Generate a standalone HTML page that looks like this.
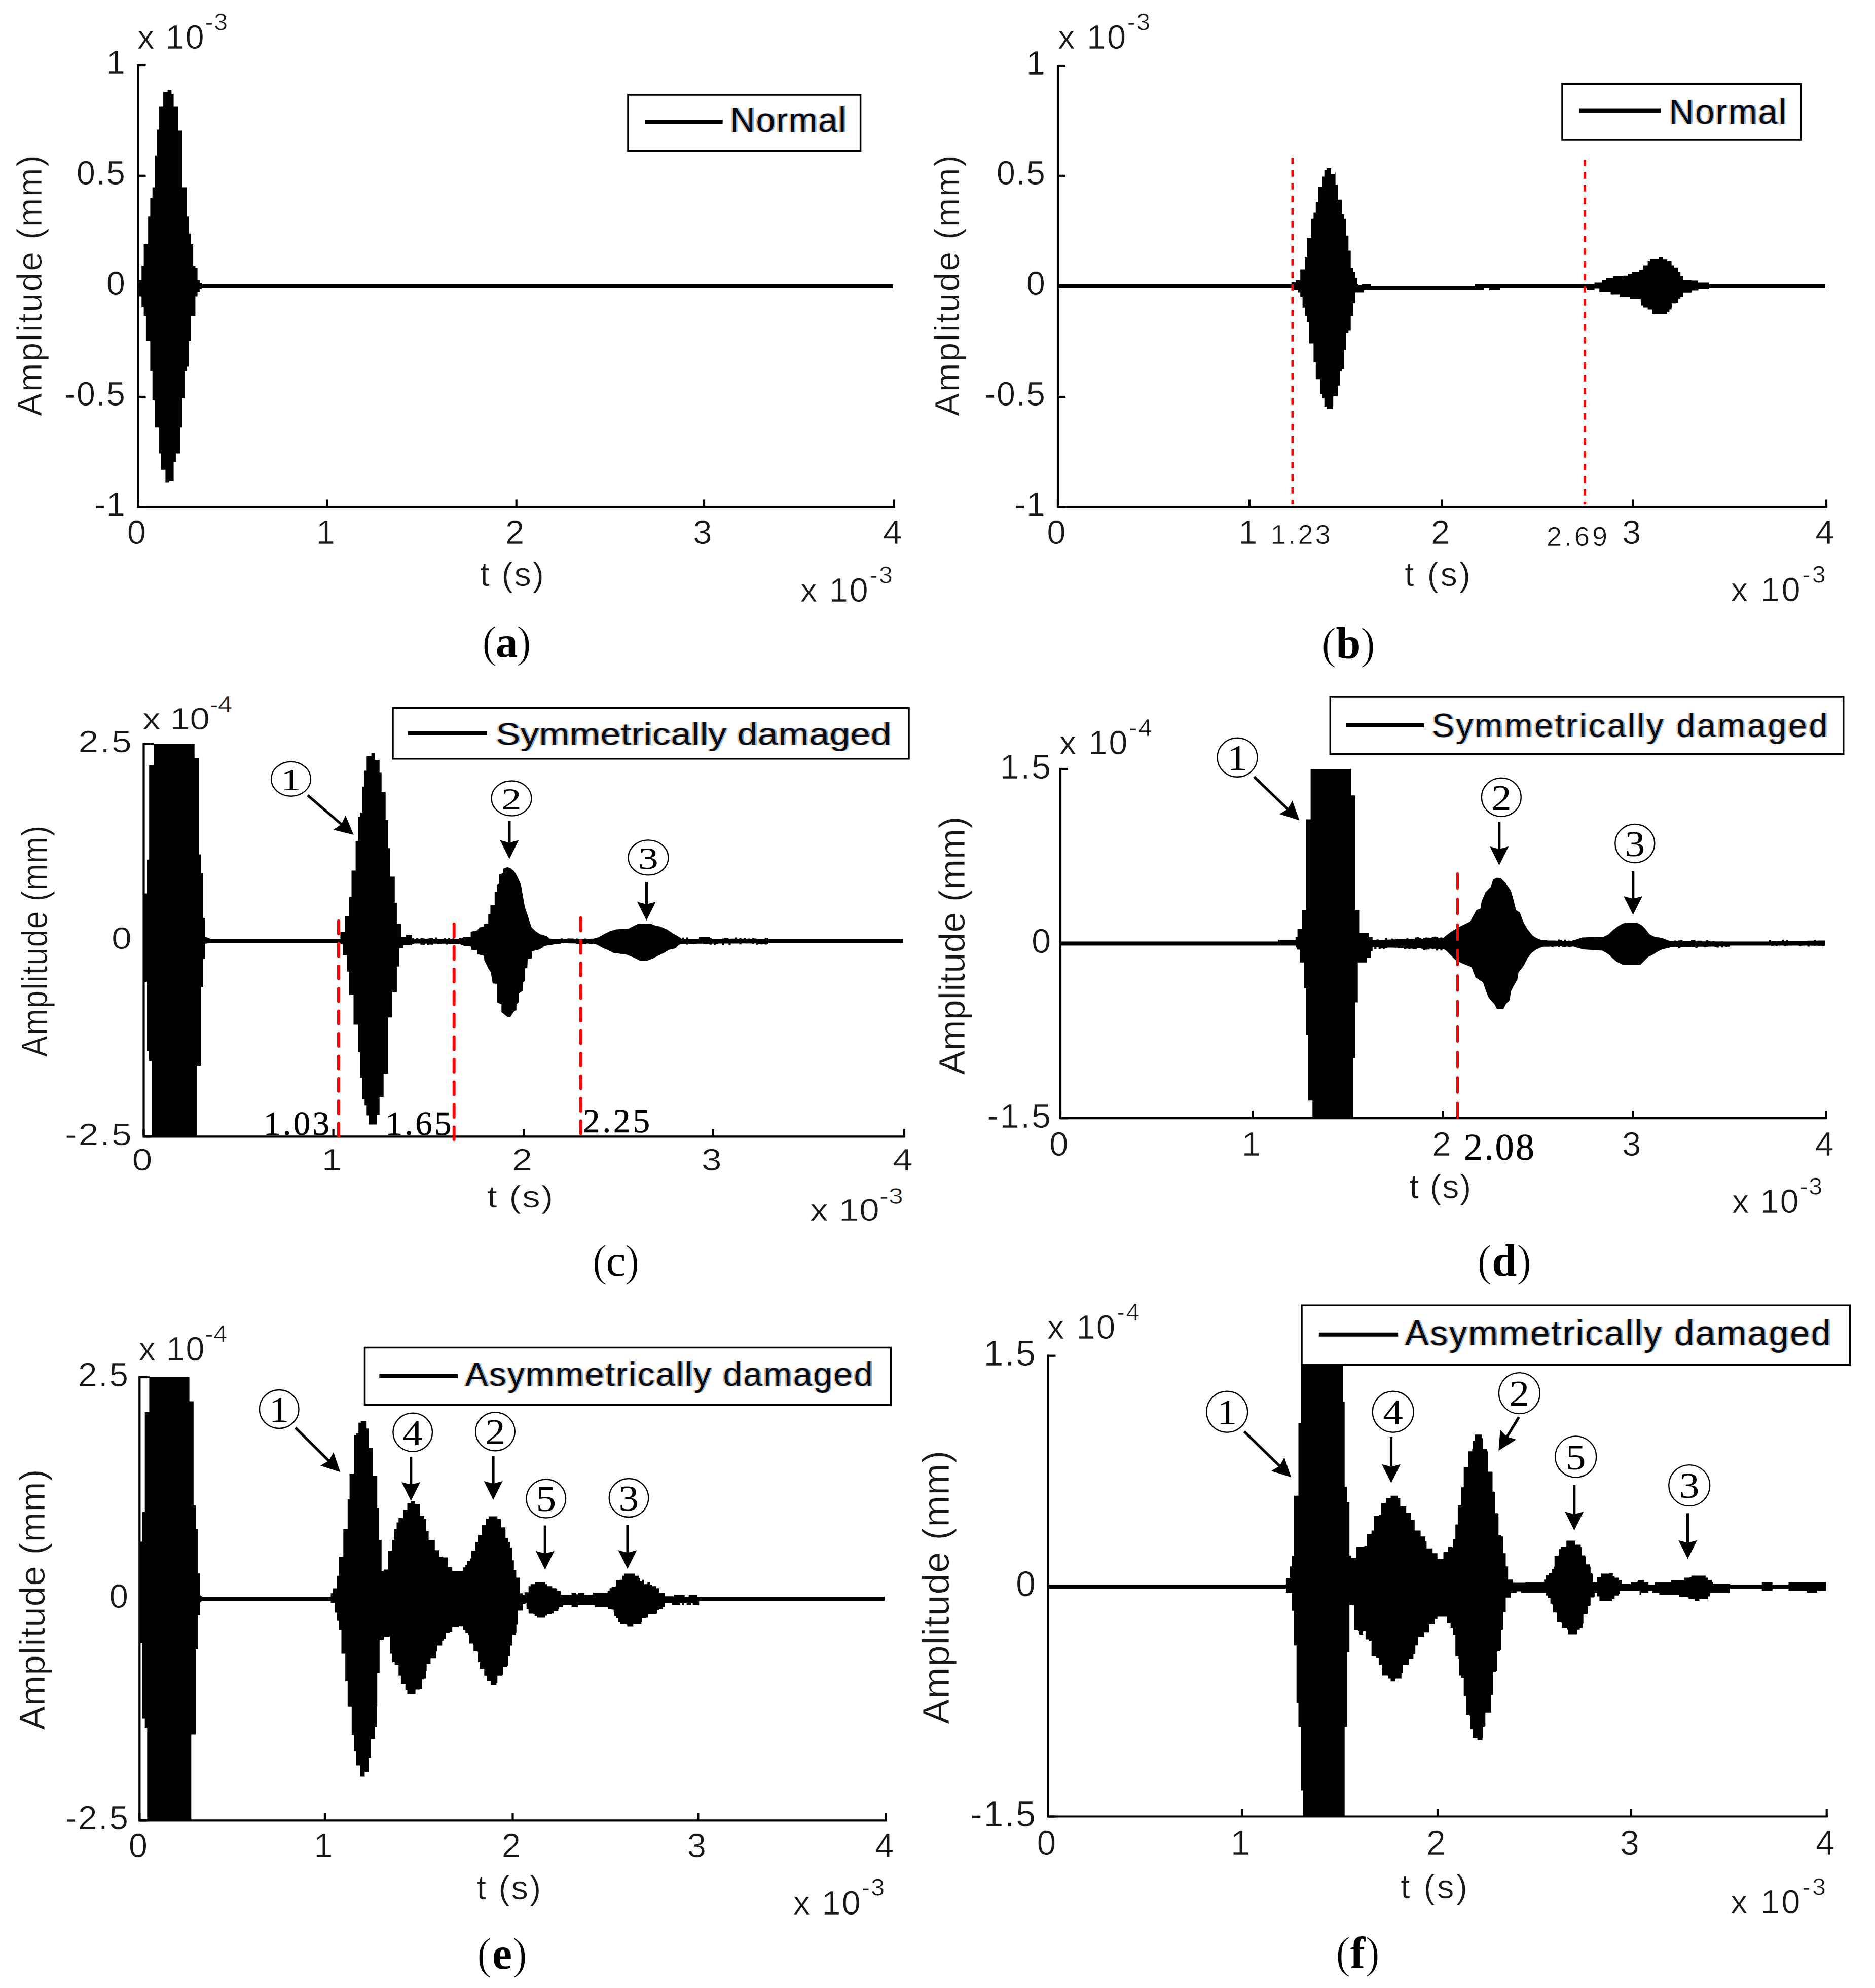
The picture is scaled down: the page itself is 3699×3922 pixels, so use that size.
<!DOCTYPE html>
<html><head><meta charset="utf-8"><title>Figure</title>
<style>html,body{margin:0;padding:0;background:#fff;overflow:hidden}svg{display:block}text{font-family:"Liberation Sans",sans-serif;fill:#181818;stroke:#fff;stroke-width:.7px}.sf{font-family:"Liberation Serif",serif;stroke:none}.k{fill:#000}.lg{fill:#0a0a14;stroke:none}.lo{fill:#ffb664;stroke:none}.lb{fill:#64b4ff;stroke:none}.sn{stroke:#000;stroke-width:.7px}.pr{stroke:#fff;stroke-width:1.5px}</style>
</head><body>
<svg width="3699" height="3922" viewBox="0 0 3699 3922">
<rect width="3699" height="3922" fill="#fff"/>
<g id="pa">
<rect x="272" y="561" width="1490" height="8" fill="#000"/>
<polygon fill="#000" points="272.5,561 274.2,561 274.2,552.6 279.3,552.6 279.3,524 283.6,524 283.6,482 292.2,482 292.2,427.3 296.4,427.3 296.4,390 300.7,390 300.7,369.6 305,369.6 305,306.7 309.3,306.7 309.3,255.4 313.5,255.4 313.5,210.5 322.1,210.5 322.1,181.5 330.6,181.5 330.6,177.6 338.3,177.6 338.3,184.9 342.6,184.9 342.6,210.5 352,210.5 352,257.6 359.7,257.6 359.7,369.6 368.3,369.6 368.3,427.3 372.5,427.3 372.5,460.7 376.8,460.7 376.8,482 381.1,482 381.1,524 385.4,524 385.4,528 389.6,528 389.6,552.6 393.9,552.6 393.9,558 398.2,558 398.2,571 393.9,571 393.9,577 389.6,577 389.6,584.6 385.4,584.6 385.4,623 376.8,623 376.8,673 372.5,673 372.5,723.6 368.3,723.6 368.3,731.3 364,731.3 364,785.6 359.7,785.6 359.7,843.3 355.4,843.3 355.4,894.6 346.9,894.6 346.9,911.7 342.6,911.7 342.6,948 334.1,948 334.1,951.5 326.4,951.5 326.4,926.7 317.8,926.7 317.8,894.6 313.5,894.6 313.5,843.3 305,843.3 305,789.9 300.7,789.9 300.7,731.3 296.4,731.3 296.4,673 287.9,673 287.9,623 283.6,623 283.6,606 279.3,606 279.3,584.6 274.2,584.6 274.2,569 272.5,569"/>
<path d="M272.5 129V1000.5H1764" fill="none" stroke="#000" stroke-width="4.2" stroke-linecap="square"/>
<line x1="272.5" y1="1000.5" x2="272.5" y2="985.5" stroke="#000" stroke-width="4.2"/>
<line x1="645.4" y1="1000.5" x2="645.4" y2="985.5" stroke="#000" stroke-width="4.2"/>
<line x1="1018.7" y1="1000.5" x2="1018.7" y2="985.5" stroke="#000" stroke-width="4.2"/>
<line x1="1389" y1="1000.5" x2="1389" y2="985.5" stroke="#000" stroke-width="4.2"/>
<line x1="1763.7" y1="1000.5" x2="1763.7" y2="985.5" stroke="#000" stroke-width="4.2"/>
<line x1="272.5" y1="129" x2="287.5" y2="129" stroke="#000" stroke-width="4.2"/>
<line x1="272.5" y1="346.8" x2="287.5" y2="346.8" stroke="#000" stroke-width="4.2"/>
<line x1="272.5" y1="565" x2="287.5" y2="565" stroke="#000" stroke-width="4.2"/>
<line x1="272.5" y1="783" x2="287.5" y2="783" stroke="#000" stroke-width="4.2"/>
<line x1="272.5" y1="1000.5" x2="287.5" y2="1000.5" stroke="#000" stroke-width="4.2"/>
<text x="269.5" y="1073" font-size="67" text-anchor="middle">0</text>
<text x="642.4" y="1073" font-size="67" text-anchor="middle">1</text>
<text x="1015.7" y="1073" font-size="67" text-anchor="middle">2</text>
<text x="1386" y="1073" font-size="67" text-anchor="middle">3</text>
<text x="1760.7" y="1073" font-size="67" text-anchor="middle">4</text>
<text x="248.5" y="146" font-size="67" text-anchor="end" letter-spacing="1.5">1</text>
<text x="248.5" y="363.8" font-size="67" text-anchor="end" letter-spacing="1.5">0.5</text>
<text x="248.5" y="582" font-size="67" text-anchor="end" letter-spacing="1.5">0</text>
<text x="248.5" y="800" font-size="67" text-anchor="end" letter-spacing="1.5">-0.5</text>
<text x="248.5" y="1017.5" font-size="67" text-anchor="end" letter-spacing="1.5">-1</text>
<text x="271" y="96" font-size="67" textLength="178" lengthAdjust="spacing">x 10<tspan font-size="48.2" dy="-36.2">-3</tspan></text>
<text x="1578.7" y="1187" font-size="67" textLength="182" lengthAdjust="spacing">x 10<tspan font-size="48.2" dy="-36.2">-3</tspan></text>
<text x="947" y="1156" font-size="67" textLength="126" lengthAdjust="spacing">t (s)</text>
<text x="0" y="0" font-size="68" text-anchor="middle" textLength="515" lengthAdjust="spacing" transform="translate(81.5 563.5) scale(1.0 1.0) rotate(-90)">Amplitude (mm)</text>
<rect x="1239" y="187" width="458.6" height="110.5" fill="#fff" stroke="#000" stroke-width="3.5"/>
<line x1="1272" y1="240" x2="1425.7" y2="240" stroke="#000" stroke-width="8"/>
<text x="1437.8" y="260" font-size="68" textLength="228.5" lengthAdjust="spacing" class="lo">Normal</text>
<text x="1443.2" y="260" font-size="68" textLength="228.5" lengthAdjust="spacing" class="lb">Normal</text>
<text x="1440.5" y="260" font-size="68" textLength="228.5" lengthAdjust="spacing" class="lg">Normal</text>
<text x="951.1" y="1296" font-size="88" class="sf k" textLength="97" lengthAdjust="spacing"><tspan class="pr">(</tspan><tspan font-weight="bold">a</tspan><tspan class="pr">)</tspan></text>
</g>
<g id="pb">
<rect x="2087" y="561" width="593" height="8" fill="#000"/>
<rect x="2676" y="565" width="238" height="8" fill="#000"/>
<rect x="2910" y="561" width="691" height="8" fill="#000"/>
<polygon fill="#000" points="2547.7,561 2547.7,557 2556.4,557 2556.4,552.8 2565.2,552.8 2565.2,531.5 2574,531.5 2574,507 2578.3,507 2578.3,469.6 2587,469.6 2587,431.7 2591.4,431.7 2591.4,419.5 2595.8,419.5 2595.8,398 2600.2,398 2600.2,369 2608.4,369 2608.4,348.6 2612.7,348.6 2612.7,336 2617,336 2617,332 2625.3,332 2626,332 2626,344 2634,344 2634,340 2634.6,340 2634.6,364.6 2639,364.6 2639,393.8 2647,393.8 2647,423 2651.5,423 2651.5,431.7 2656,431.7 2656,464.7 2660.3,464.7 2660.3,494.4 2664.7,494.4 2664.7,528 2669,528 2669,536 2673.4,536 2673.4,548.4 2677.8,548.4 2677.8,563 2686.6,563 2686.6,561 2704,561 2704,566 2704,572 2690.6,572 2690.6,577.6 2673.4,577.6 2673.4,598 2669,598 2669,623.4 2664.7,623.4 2664.7,652.6 2660.3,652.6 2660.3,656.4 2656,656.4 2656,690 2651.5,690 2651.5,727.3 2647,727.3 2647,731.6 2643.4,731.6 2643.4,760.8 2642.8,760.8 2639,760.8 2639,781 2639,781.8 2630.2,781.8 2630.2,802.2 2629.4,802.2 2629.4,806.6 2621.5,806.6 2617,806.6 2617,802.2 2612.7,802.2 2612.7,785.6 2608.4,785.6 2608.4,777.4 2604,777.4 2604,748.3 2595.8,748.3 2595.8,714.7 2591.4,714.7 2591.4,677.4 2582.7,677.4 2582.7,636 2578.3,636 2578.3,623.4 2574,623.4 2574,606.8 2569.6,606.8 2569.6,585.7 2565.2,585.7 2565.2,577.6 2560.8,577.6 2560.8,573 2552,573 2552,569 2547.7,569"/>
<polygon fill="#000" points="3130,561 3145.6,561 3145.6,557.6 3160,557.6 3160,552.8 3168,552.8 3168,548.6 3182.4,548.6 3182.4,544.8 3203,544.8 3203,543.8 3211,543.8 3211,540 3219.8,540 3219.8,536 3233.6,536 3233.6,532 3241.6,532 3241.6,523.4 3250.6,523.4 3250.6,515 3255,515 3255,510.6 3272,510.6 3272,507.4 3280,507.4 3280,511.2 3289,511.2 3289,515 3297.6,515 3297.6,523.4 3302.4,523.4 3302.4,527.8 3311,527.8 3311,536 3315.2,536 3315.2,544.8 3320,544.8 3320,552.8 3337.6,552.8 3337.6,553.4 3349.8,553.4 3349.8,557.6 3372,557.6 3372,561 3372,571 3350.4,571 3350.4,573.6 3337.6,573.6 3337.6,577.8 3320,577.8 3320,585.4 3315.2,585.4 3315.2,589.6 3311,589.6 3311,597.6 3306.6,597.6 3306.6,598.2 3298.2,598.2 3298.2,606.6 3297.6,606.6 3297.6,610.4 3293.4,610.4 3293.4,615.2 3289,615.2 3289,619 3284.8,619 3259.2,619 3259.2,610.4 3250.6,610.4 3250.6,606.6 3241.6,606.6 3241.6,602.4 3237.8,602.4 3237.8,594.4 3236.8,594.4 3236.8,589.6 3216,589.6 3216,585.4 3195.2,585.4 3195.2,581.6 3177.6,581.6 3177.6,576.8 3155.2,576.8 3155.2,569.4 3145.6,569.4 3145.6,573 3130,573"/>
<rect x="2914" y="569" width="8" height="4" fill="#000"/>
<rect x="2922" y="569" width="6" height="3" fill="#000"/>
<rect x="2938" y="569" width="22" height="4" fill="#000"/>
<path d="M2087 130V1000.5H3603" fill="none" stroke="#000" stroke-width="4.2" stroke-linecap="square"/>
<line x1="2087" y1="1000.5" x2="2087" y2="985.5" stroke="#000" stroke-width="4.2"/>
<line x1="2465" y1="1000.5" x2="2465" y2="985.5" stroke="#000" stroke-width="4.2"/>
<line x1="2844.6" y1="1000.5" x2="2844.6" y2="985.5" stroke="#000" stroke-width="4.2"/>
<line x1="3221.7" y1="1000.5" x2="3221.7" y2="985.5" stroke="#000" stroke-width="4.2"/>
<line x1="3603" y1="1000.5" x2="3603" y2="985.5" stroke="#000" stroke-width="4.2"/>
<line x1="2087" y1="130" x2="2102" y2="130" stroke="#000" stroke-width="4.2"/>
<line x1="2087" y1="346.8" x2="2102" y2="346.8" stroke="#000" stroke-width="4.2"/>
<line x1="2087" y1="565" x2="2102" y2="565" stroke="#000" stroke-width="4.2"/>
<line x1="2087" y1="783" x2="2102" y2="783" stroke="#000" stroke-width="4.2"/>
<line x1="2087" y1="1000.5" x2="2102" y2="1000.5" stroke="#000" stroke-width="4.2"/>
<line x1="2549.8" y1="311" x2="2549.8" y2="995" stroke="#ff0000" stroke-width="4.6" stroke-dasharray="12.8 12.2"/>
<line x1="3126.5" y1="315" x2="3126.5" y2="995" stroke="#ff0000" stroke-width="4.6" stroke-dasharray="12.8 12.2"/>
<text x="2084" y="1073" font-size="67" text-anchor="middle">0</text>
<text x="2462" y="1073" font-size="67" text-anchor="middle">1</text>
<text x="2841.6" y="1073" font-size="67" text-anchor="middle">2</text>
<text x="3218.7" y="1073" font-size="67" text-anchor="middle">3</text>
<text x="3600" y="1073" font-size="67" text-anchor="middle">4</text>
<text x="2063.5" y="147" font-size="67" text-anchor="end" letter-spacing="1.5">1</text>
<text x="2063.5" y="363.8" font-size="67" text-anchor="end" letter-spacing="1.5">0.5</text>
<text x="2063.5" y="582" font-size="67" text-anchor="end" letter-spacing="1.5">0</text>
<text x="2063.5" y="800" font-size="67" text-anchor="end" letter-spacing="1.5">-0.5</text>
<text x="2063.5" y="1017.5" font-size="67" text-anchor="end" letter-spacing="1.5">-1</text>
<text x="2087" y="96" font-size="67" textLength="182" lengthAdjust="spacing">x 10<tspan font-size="48.2" dy="-36.2">-3</tspan></text>
<text x="3414.5" y="1186.4" font-size="67" textLength="187" lengthAdjust="spacing">x 10<tspan font-size="48.2" dy="-36.2">-3</tspan></text>
<text x="2771" y="1156" font-size="67" textLength="130" lengthAdjust="spacing">t (s)</text>
<text x="0" y="0" font-size="68" text-anchor="middle" textLength="515" lengthAdjust="spacing" transform="translate(1892 563.5) scale(1.0 1.0) rotate(-90)">Amplitude (mm)</text>
<text x="2506.8" y="1073" font-size="54" textLength="118" lengthAdjust="spacing">1.23</text>
<text x="3051" y="1076.5" font-size="54" textLength="120" lengthAdjust="spacing">2.69</text>
<rect x="3082" y="165.5" width="471" height="110.5" fill="#fff" stroke="#000" stroke-width="3.5"/>
<line x1="3115.4" y1="218.6" x2="3276" y2="218.6" stroke="#000" stroke-width="8"/>
<text x="3289.9" y="244" font-size="68" textLength="231.4" lengthAdjust="spacing" class="lo">Normal</text>
<text x="3295.3" y="244" font-size="68" textLength="231.4" lengthAdjust="spacing" class="lb">Normal</text>
<text x="3292.6" y="244" font-size="68" textLength="231.4" lengthAdjust="spacing" class="lg">Normal</text>
<text x="2607.1" y="1299.4" font-size="88" class="sf k" textLength="106" lengthAdjust="spacing"><tspan class="pr">(</tspan><tspan font-weight="bold">b</tspan><tspan class="pr">)</tspan></text>
</g>
<g id="pc">
<rect x="400" y="1852" width="1382" height="8" fill="#000"/>
<polygon fill="#000" points="800,1852.5 804.2,1852.5 804.2,1850.6 808.4,1850.6 808.4,1851.7 812.6,1851.7 812.6,1850.8 816.8,1850.8 816.8,1852.4 821,1852.4 821,1850.2 825.2,1850.2 825.2,1852.4 829.4,1852.4 829.4,1851 833.6,1851 833.6,1851.2 837.8,1851.2 837.8,1852.3 842,1852.3 842,1851.7 846.2,1851.7 846.2,1851 850.4,1851 850.4,1850.5 854.6,1850.5 854.6,1852.3 858.8,1852.3 858.8,1849.4 863,1849.4 863,1852.2 867.2,1852.2 867.2,1852.2 871.4,1852.2 871.4,1852.2 875.6,1852.2 875.6,1849.9 879.8,1849.9 879.8,1852.2 884,1852.2 884,1850.6 888.2,1850.6 888.2,1852.1 892.4,1852.1 892.4,1851.2 896.6,1851.2 896.6,1852.1 900.8,1852.1 900.8,1852.1 905,1852.1 905,1850.1 909.2,1850.1 909.2,1850.7 913.4,1850.7 913.4,1849.1 916,1849.1 916,1863.6 913.4,1863.6 913.4,1862 909.2,1862 909.2,1862 905,1862 905,1863.1 900.8,1863.1 900.8,1862.9 896.6,1862.9 896.6,1862.4 892.4,1862.4 892.4,1861.9 888.2,1861.9 888.2,1861.9 884,1861.9 884,1863.5 879.8,1863.5 879.8,1861.8 875.6,1861.8 875.6,1861.8 871.4,1861.8 871.4,1862.1 867.2,1862.1 867.2,1862.6 863,1862.6 863,1861.8 858.8,1861.8 858.8,1861.7 854.6,1861.7 854.6,1863.8 850.4,1863.8 850.4,1863.4 846.2,1863.4 846.2,1864 842,1864 842,1861.7 837.8,1861.7 837.8,1864.5 833.6,1864.5 833.6,1863.8 829.4,1863.8 829.4,1861.6 825.2,1861.6 825.2,1861.6 821,1861.6 821,1861.6 816.8,1861.6 816.8,1862.7 812.6,1862.7 812.6,1861.5 808.4,1861.5 808.4,1861.5 804.2,1861.5 804.2,1861.5 800,1861.5"/>
<polygon fill="#000" points="1098,1853 1102.2,1853 1102.2,1853 1106.4,1853 1106.4,1851.3 1110.6,1851.3 1110.6,1852.4 1114.8,1852.4 1114.8,1852.5 1119,1852.5 1119,1851.3 1123.2,1851.3 1123.2,1851.6 1127.4,1851.6 1127.4,1851.5 1131.6,1851.5 1131.6,1852.2 1135.8,1852.2 1135.8,1851.6 1140,1851.6 1140,1852.7 1144.2,1852.7 1144.2,1852.7 1148.4,1852.7 1148.4,1852.7 1152.6,1852.7 1152.6,1851.6 1156.8,1851.6 1156.8,1852.6 1161,1852.6 1161,1852.6 1165.2,1852.6 1165.2,1851.7 1169.4,1851.7 1169.4,1852.5 1173.6,1852.5 1173.6,1852.5 1177,1852.5 1177,1861.5 1173.6,1861.5 1173.6,1861.5 1169.4,1861.5 1169.4,1862.7 1165.2,1862.7 1165.2,1862 1161,1862 1161,1861.4 1156.8,1861.4 1156.8,1862.7 1152.6,1862.7 1152.6,1862.6 1148.4,1862.6 1148.4,1862.9 1144.2,1862.9 1144.2,1862.1 1140,1862.1 1140,1862.9 1135.8,1862.9 1135.8,1861.2 1131.6,1861.2 1131.6,1861.2 1127.4,1861.2 1127.4,1861.3 1123.2,1861.3 1123.2,1861.1 1119,1861.1 1119,1861.1 1114.8,1861.1 1114.8,1861.1 1110.6,1861.1 1110.6,1861.1 1106.4,1861.1 1106.4,1862.1 1102.2,1862.1 1102.2,1862 1098,1862"/>
<polygon fill="#000" points="1345,1849.8 1349.2,1849.8 1349.2,1852 1353.4,1852 1353.4,1849.4 1357.6,1849.4 1357.6,1852.1 1361.8,1852.1 1361.8,1852.1 1366,1852.1 1366,1852.1 1370.2,1852.1 1370.2,1852.1 1374.4,1852.1 1374.4,1852.2 1378.6,1852.2 1378.6,1851.3 1382.8,1851.3 1382.8,1852.2 1387,1852.2 1387,1851.3 1391.2,1851.3 1391.2,1852.3 1395.4,1852.3 1395.4,1852.3 1399.6,1852.3 1399.6,1849.9 1403.8,1849.9 1403.8,1852.3 1408,1852.3 1408,1852.4 1412.2,1852.4 1412.2,1852.4 1416.4,1852.4 1416.4,1852.4 1420.6,1852.4 1420.6,1852.4 1424.8,1852.4 1424.8,1851.4 1429,1851.4 1429,1850.2 1433.2,1850.2 1433.2,1849.9 1437.4,1849.9 1437.4,1852.5 1441.6,1852.5 1441.6,1851.7 1445.8,1851.7 1445.8,1851.7 1450,1851.7 1450,1849.6 1454.2,1849.6 1454.2,1852.6 1458.4,1852.6 1458.4,1850.2 1462.6,1850.2 1462.6,1852.7 1466.8,1852.7 1466.8,1850.2 1471,1850.2 1471,1852.7 1475.2,1852.7 1475.2,1851.6 1479.4,1851.6 1479.4,1852.4 1483.6,1852.4 1483.6,1849.9 1487.8,1849.9 1487.8,1851.4 1492,1851.4 1492,1852.9 1496.2,1852.9 1496.2,1852.9 1500.4,1852.9 1500.4,1852.7 1504.6,1852.7 1504.6,1852.9 1508.8,1852.9 1508.8,1850.5 1513,1850.5 1513,1850.1 1516,1850.1 1516,1863 1513,1863 1513,1863.4 1508.8,1863.4 1508.8,1862.7 1504.6,1862.7 1504.6,1863.2 1500.4,1863.2 1500.4,1862.7 1496.2,1862.7 1496.2,1863.7 1492,1863.7 1492,1861.2 1487.8,1861.2 1487.8,1862.6 1483.6,1862.6 1483.6,1861.2 1479.4,1861.2 1479.4,1861.2 1475.2,1861.2 1475.2,1861.6 1471,1861.6 1471,1861.3 1466.8,1861.3 1466.8,1861.3 1462.6,1861.3 1462.6,1863.3 1458.4,1863.3 1458.4,1861.5 1454.2,1861.5 1454.2,1861.4 1450,1861.4 1450,1861.4 1445.8,1861.4 1445.8,1861.4 1441.6,1861.4 1441.6,1864.2 1437.4,1864.2 1437.4,1861.5 1433.2,1861.5 1433.2,1861.5 1429,1861.5 1429,1864.2 1424.8,1864.2 1424.8,1861.6 1420.6,1861.6 1420.6,1861.6 1416.4,1861.6 1416.4,1862.7 1412.2,1862.7 1412.2,1864.2 1408,1864.2 1408,1861.7 1403.8,1861.7 1403.8,1863.8 1399.6,1863.8 1399.6,1861.9 1395.4,1861.9 1395.4,1862.6 1391.2,1862.6 1391.2,1863 1387,1863 1387,1861.8 1382.8,1861.8 1382.8,1861.8 1378.6,1861.8 1378.6,1861.8 1374.4,1861.8 1374.4,1861.9 1370.2,1861.9 1370.2,1862.3 1366,1862.3 1366,1862.4 1361.8,1862.4 1361.8,1861.9 1357.6,1861.9 1357.6,1863.6 1353.4,1863.6 1353.4,1862 1349.2,1862 1349.2,1862 1345,1862"/>
<polygon fill="#000" points="303.3,1467.5 383.7,1467.5 383.7,1495.7 392.8,1495.7 392.8,1685.4 397,1685.4 397,1722.5 401,1722.5 401,1811 405,1811 405,1848 414.7,1852 414.7,1860 405,1862 405,1891.7 401,1891.7 401,1947.3 397,1947.3 397,2103 388,2103 388,2242.3 299,2242.3 299,2093 294,2093 294,2073 290,2073 290,1937 283.5,1937 283.5,1762.5 290,1762.5 290,1695.7 294.2,1695.7 294.2,1510 303.3,1510"/>
<polygon fill="#000" points="667,1852 671.4,1852 671.4,1838.3 680.2,1838.3 680.2,1832.2 680.2,1808 689,1808 689,1769.9 693.5,1769.9 693.5,1717.5 701.6,1717.5 701.6,1659.2 706.4,1659.2 706.4,1611 710.4,1611 710.4,1603 714.4,1603 714.4,1551.8 718.5,1551.8 718.5,1520.4 723.3,1520.4 723.3,1491.4 732.6,1491.4 732.6,1485 739.4,1485 739.4,1499 748.7,1499 748.7,1524.4 752.7,1524.4 752.7,1562.6 760.7,1562.6 760.7,1565.4 760.7,1617.7 765.6,1617.7 765.6,1673.3 769.6,1673.3 769.6,1729.6 778.8,1729.6 778.8,1781 782.9,1781 782.9,1822 791.7,1822 791.7,1848.3 801,1848.3 801,1844 813,1844 813,1852 813,1862 813,1864.4 795.7,1864.4 795.7,1870.5 787.7,1870.5 787.7,1906.7 782.9,1906.7 782.9,1947 782.9,1957 774,1957 774,2007.3 765.6,2007.3 765.6,2114 765.6,2118 756.7,2118 756.7,2162.2 756.7,2164.2 748.7,2164.2 748.7,2199.6 743.8,2199.6 743.8,2218.6 727.7,2218.6 727.7,2200.4 723.3,2200.4 723.3,2180.3 719.3,2180.3 719.3,2168.2 714.4,2168.2 714.4,2126 710.4,2126 710.4,2079 710.4,2075.7 706.4,2075.7 706.4,2021.4 697.5,2021.4 697.5,1962.2 689,1962.2 689,1916.7 684.3,1916.7 684.3,1884.5 676.2,1884.5 676.2,1862.4 671.4,1862.4 671.4,1860 667,1860"/>
<polygon fill="#000" points="905,1852 916.3,1849 928.6,1848.2 928.6,1838.2 941.3,1835.5 945.9,1829.8 954.7,1827.8 954.7,1822.8 963.2,1822 963.2,1803.6 967.4,1803.6 967.4,1785.6 975.8,1785.6 975.8,1759.5 980.4,1759.5 980.4,1745.3 984.7,1743 984.7,1725.3 993,1722.2 993,1713.8 1000.8,1710.7 1006.6,1712.6 1014.2,1718.4 1018.8,1726 1022.7,1733.8 1027.7,1745.3 1031.5,1767.5 1035.4,1789.4 1040.3,1803.6 1044.2,1816.3 1048.8,1829.8 1057.2,1837.4 1066,1843.2 1079.5,1847 1083.4,1851.6 1098.7,1853 1098.7,1862 1091,1863.5 1073.8,1866.2 1070,1870 1061.5,1873.9 1049.6,1876.6 1048.8,1891.2 1041,1892.3 1040.3,1909.6 1036,1910.4 1036,1935.4 1032.3,1937.3 1031.5,1954.6 1023,1960.3 1023,1977.6 1018.8,1981.4 1018.8,1993 1014.2,1994.9 1006.6,2006.4 1001.6,2006.4 989.3,1996.8 989.3,1981.4 980.4,1977.6 980.4,1941 972,1940.3 968.2,1918 963.2,1910.4 958.6,1900.8 955.5,1895 954.7,1885.4 942,1882.4 941.3,1873.9 929.8,1873.9 928.6,1867 916.3,1866.2 905,1862"/>
<polygon fill="#000" points="1170,1852 1181.3,1849 1190.9,1843.2 1202.4,1837.4 1215.8,1833.6 1240.8,1831.7 1246.6,1828.6 1258,1822.8 1283,1822 1292.6,1826 1302.2,1827.8 1315.7,1833.6 1327.2,1841.3 1340.6,1849 1345,1852 1345,1862 1338.7,1864.3 1333,1870.8 1319.5,1874 1310,1879.7 1298.4,1885.4 1288.8,1890.4 1275.4,1895.8 1262,1895 1250.4,1889.3 1237,1883.5 1210,1879.7 1198.6,1874 1189,1870 1177.4,1863.5 1170,1862"/>
<rect x="1379" y="1848" width="21" height="8" fill="#000"/>
<path d="M283.5 1467.5V2242.3H1784" fill="none" stroke="#000" stroke-width="4.2" stroke-linecap="square"/>
<line x1="283.5" y1="2242.3" x2="283.5" y2="2227.3" stroke="#000" stroke-width="4.2"/>
<line x1="657.6" y1="2242.3" x2="657.6" y2="2227.3" stroke="#000" stroke-width="4.2"/>
<line x1="1033.3" y1="2242.3" x2="1033.3" y2="2227.3" stroke="#000" stroke-width="4.2"/>
<line x1="1406.7" y1="2242.3" x2="1406.7" y2="2227.3" stroke="#000" stroke-width="4.2"/>
<line x1="1784" y1="2242.3" x2="1784" y2="2227.3" stroke="#000" stroke-width="4.2"/>
<line x1="283.5" y1="1467.5" x2="298.5" y2="1467.5" stroke="#000" stroke-width="4.2"/>
<line x1="283.5" y1="1855" x2="298.5" y2="1855" stroke="#000" stroke-width="4.2"/>
<line x1="283.5" y1="2242.3" x2="298.5" y2="2242.3" stroke="#000" stroke-width="4.2"/>
<line x1="283.5" y1="1467.5" x2="303.5" y2="1467.5" stroke="#000" stroke-width="3.5"/>
<line x1="668" y1="1817" x2="668" y2="2242" stroke="#ff0000" stroke-width="6" stroke-dasharray="25 19.4" stroke-linecap="round"/>
<line x1="895.7" y1="1823" x2="895.7" y2="2248" stroke="#ff0000" stroke-width="6" stroke-dasharray="25 19.5" stroke-linecap="round"/>
<line x1="1145.7" y1="1810.9" x2="1145.7" y2="2242" stroke="#ff0000" stroke-width="6" stroke-dasharray="25 19.5" stroke-linecap="round"/>
<text x="0" y="0" font-size="67" text-anchor="middle" transform="translate(280.5 2308.6) scale(1.07 0.92)">0</text>
<text x="0" y="0" font-size="67" text-anchor="middle" transform="translate(654.6 2308.6) scale(1.07 0.92)">1</text>
<text x="0" y="0" font-size="67" text-anchor="middle" transform="translate(1030.3 2308.6) scale(1.07 0.92)">2</text>
<text x="0" y="0" font-size="67" text-anchor="middle" transform="translate(1403.7 2308.6) scale(1.07 0.92)">3</text>
<text x="0" y="0" font-size="67" text-anchor="middle" transform="translate(1781 2308.6) scale(1.07 0.92)">4</text>
<text x="0" y="0" font-size="67" text-anchor="end" transform="translate(262.6 1484) scale(1.07 0.92)" letter-spacing="2.6">2.5</text>
<text x="0" y="0" font-size="67" text-anchor="end" transform="translate(262.6 1871.5) scale(1.07 0.92)" letter-spacing="2.6">0</text>
<text x="0" y="0" font-size="67" text-anchor="end" transform="translate(262.6 2258.8) scale(1.07 0.92)" letter-spacing="2.6">-2.5</text>
<text x="0" y="0" font-size="67" textLength="165.9" lengthAdjust="spacing" transform="translate(281 1438.5) scale(1.07 0.92)">x 10<tspan font-size="48.2" dy="-36.2">-4</tspan></text>
<text x="0" y="0" font-size="67" textLength="171.6" lengthAdjust="spacing" transform="translate(1598 2408.4) scale(1.07 0.92)">x 10<tspan font-size="48.2" dy="-36.2">-3</tspan></text>
<text x="0" y="0" font-size="67" textLength="122.1" lengthAdjust="spacing" transform="translate(960.8 2381.5) scale(1.07 0.92)">t (s)</text>
<text x="0" y="0" font-size="68" text-anchor="middle" textLength="496.1" lengthAdjust="spacing" transform="translate(93 1857) scale(1.07 0.92) rotate(-90)">Amplitude (mm)</text>
<text x="520" y="2238.7" font-size="67" textLength="130" lengthAdjust="spacing" class="sf k sn">1.03</text>
<text x="760.5" y="2238.7" font-size="67" textLength="130" lengthAdjust="spacing" class="sf k sn">1.65</text>
<text x="1150" y="2233.6" font-size="67" textLength="132" lengthAdjust="spacing" class="sf k sn">2.25</text>
<rect x="775" y="1396.5" width="1018" height="100.3" fill="#fff" stroke="#000" stroke-width="3.5"/>
<line x1="804.6" y1="1447" x2="960.8" y2="1447" stroke="#000" stroke-width="8"/>
<text x="0" y="0" font-size="67" textLength="728.3" lengthAdjust="spacing" class="lo" transform="translate(975.6 1469) scale(1.07 0.92)">Symmetrically damaged</text>
<text x="0" y="0" font-size="67" textLength="728.3" lengthAdjust="spacing" class="lb" transform="translate(981.4 1469) scale(1.07 0.92)">Symmetrically damaged</text>
<text x="0" y="0" font-size="67" textLength="728.3" lengthAdjust="spacing" class="lg" transform="translate(978.5 1469) scale(1.07 0.92)">Symmetrically damaged</text>
<ellipse cx="574" cy="1536.8" rx="39" ry="34" fill="none" stroke="#000" stroke-width="2.4"/>
<text x="0" y="0" font-size="71" text-anchor="middle" class="sf k" transform="translate(574 1558.5) scale(1.12 0.8717948717948718)">1</text>
<line x1="607" y1="1569" x2="673.4" y2="1626.1" stroke="#000" stroke-width="5.2"/>
<polygon fill="#000" points="697.7,1647 657.6,1636.9 673.4,1626.1 681.7,1608.8"/>
<ellipse cx="1009" cy="1575" rx="39.5" ry="34.5" fill="none" stroke="#000" stroke-width="2.4"/>
<text x="0" y="0" font-size="71" text-anchor="middle" class="sf k" transform="translate(1009 1596.7) scale(1.12 0.8734177215189873)">2</text>
<line x1="1004.9" y1="1619.4" x2="1004.9" y2="1662.4" stroke="#000" stroke-width="5.2"/>
<polygon fill="#000" points="1004.9,1694.4 986.4,1657.4 1004.9,1662.4 1023.4,1657.4"/>
<ellipse cx="1279" cy="1691.9" rx="39.5" ry="34.5" fill="none" stroke="#000" stroke-width="2.4"/>
<text x="0" y="0" font-size="71" text-anchor="middle" class="sf k" transform="translate(1279 1713.6) scale(1.12 0.8734177215189873)">3</text>
<line x1="1275.4" y1="1740" x2="1275.4" y2="1784" stroke="#000" stroke-width="5.2"/>
<polygon fill="#000" points="1275.4,1816 1256.9,1779 1275.4,1784 1293.9,1779"/>
<text x="1168.5" y="2517.3" font-size="88" class="sf k" textLength="93" lengthAdjust="spacing"><tspan class="pr">(</tspan>c<tspan class="pr">)</tspan></text>
</g>
<g id="pd">
<rect x="2092" y="1857.5" width="1508" height="8" fill="#000"/>
<rect x="2522" y="1854" width="36" height="8" fill="#000"/>
<polygon fill="#000" points="2707,1854.5 2711.2,1854.5 2711.2,1854.4 2715.4,1854.4 2715.4,1853.2 2719.6,1853.2 2719.6,1854.2 2723.8,1854.2 2723.8,1854 2728,1854 2728,1853.9 2732.2,1853.9 2732.2,1851 2736.4,1851 2736.4,1853.7 2740.6,1853.7 2740.6,1853.6 2744.8,1853.6 2744.8,1851.8 2749,1851.8 2749,1853.3 2753.2,1853.3 2753.2,1852 2757.4,1852 2757.4,1853.1 2761.6,1853.1 2761.6,1853 2765.8,1853 2765.8,1852.9 2770,1852.9 2770,1852.8 2774.2,1852.8 2774.2,1851.3 2778.4,1851.3 2778.4,1852.4 2782.6,1852.4 2782.6,1852.1 2786.8,1852.1 2786.8,1852.3 2791,1852.3 2791,1849.4 2795.2,1849.4 2795.2,1848.8 2799.4,1848.8 2799.4,1850.4 2803.6,1850.4 2803.6,1851.9 2807.8,1851.9 2807.8,1850.6 2812,1850.6 2812,1849.5 2816.2,1849.5 2816.2,1849.8 2820.4,1849.8 2820.4,1850.3 2824.6,1850.3 2824.6,1848.8 2828.8,1848.8 2828.8,1847.8 2833,1847.8 2833,1849.1 2837.2,1849.1 2837.2,1850.9 2841.4,1850.9 2841.4,1849.6 2845.6,1849.6 2845.6,1850.7 2849.8,1850.7 2849.8,1850.6 2853,1850.6 2853,1872.7 2849.8,1872.7 2849.8,1872.3 2845.6,1872.3 2845.6,1875.2 2841.4,1875.2 2841.4,1872.1 2837.2,1872.1 2837.2,1875.3 2833,1875.3 2833,1871.8 2828.8,1871.8 2828.8,1872.8 2824.6,1872.8 2824.6,1871.6 2820.4,1871.6 2820.4,1873.2 2816.2,1873.2 2816.2,1873.5 2812,1873.5 2812,1874.7 2807.8,1874.7 2807.8,1871.8 2803.6,1871.8 2803.6,1871 2799.4,1871 2799.4,1870.9 2795.2,1870.9 2795.2,1872.4 2791,1872.4 2791,1872.3 2786.8,1872.3 2786.8,1871.4 2782.6,1871.4 2782.6,1872.5 2778.4,1872.5 2778.4,1871.4 2774.2,1871.4 2774.2,1872.2 2770,1872.2 2770,1870.1 2765.8,1870.1 2765.8,1870 2761.6,1870 2761.6,1871 2757.4,1871 2757.4,1869.8 2753.2,1869.8 2753.2,1869.7 2749,1869.7 2749,1869.5 2744.8,1869.5 2744.8,1869.4 2740.6,1869.4 2740.6,1869.6 2736.4,1869.6 2736.4,1870.7 2732.2,1870.7 2732.2,1872.5 2728,1872.5 2728,1871.3 2723.8,1871.3 2723.8,1872 2719.6,1872 2719.6,1868.7 2715.4,1868.7 2715.4,1872 2711.2,1872 2711.2,1868.6 2707,1868.6"/>
<polygon fill="#000" points="3031,1852.2 3035.2,1852.2 3035.2,1855.1 3039.4,1855.1 3039.4,1855.2 3043.6,1855.2 3043.6,1854 3047.8,1854 3047.8,1855.1 3052,1855.1 3052,1855.4 3056.2,1855.4 3056.2,1855.5 3060.4,1855.5 3060.4,1855.6 3064.6,1855.6 3064.6,1855.6 3068.8,1855.6 3068.8,1855.7 3073,1855.7 3073,1853.5 3077.2,1853.5 3077.2,1854.8 3081.4,1854.8 3081.4,1855.9 3085.6,1855.9 3085.6,1853.8 3089.8,1853.8 3089.8,1856.1 3094,1856.1 3094,1855.7 3098.2,1855.7 3098.2,1856.3 3102.4,1856.3 3102.4,1854.6 3106.6,1854.6 3106.6,1856.4 3110.8,1856.4 3110.8,1856.5 3111,1856.5 3111,1868.4 3110.8,1868.4 3110.8,1868.7 3106.6,1868.7 3106.6,1866.9 3102.4,1866.9 3102.4,1867.8 3098.2,1867.8 3098.2,1868.1 3094,1868.1 3094,1867.4 3089.8,1867.4 3089.8,1868.8 3085.6,1868.8 3085.6,1868.6 3081.4,1868.6 3081.4,1867.1 3077.2,1867.1 3077.2,1869 3073,1869 3073,1867.3 3068.8,1867.3 3068.8,1867.4 3064.6,1867.4 3064.6,1869.1 3060.4,1869.1 3060.4,1867.5 3056.2,1867.5 3056.2,1867.8 3052,1867.8 3052,1867.7 3047.8,1867.7 3047.8,1867.8 3043.6,1867.8 3043.6,1867.8 3039.4,1867.8 3039.4,1867.9 3035.2,1867.9 3035.2,1870 3031,1870"/>
<polygon fill="#000" points="3290,1856.5 3294.2,1856.5 3294.2,1856.6 3298.4,1856.6 3298.4,1856.6 3302.6,1856.6 3302.6,1855.5 3306.8,1855.5 3306.8,1856.4 3311,1856.4 3311,1855.2 3315.2,1855.2 3315.2,1854.6 3319.4,1854.6 3319.4,1856.9 3323.6,1856.9 3323.6,1856.9 3327.8,1856.9 3327.8,1857 3332,1857 3332,1857 3336.2,1857 3336.2,1854.9 3340.4,1854.9 3340.4,1854.6 3344.6,1854.6 3344.6,1857.2 3348.8,1857.2 3348.8,1855.7 3353,1855.7 3353,1855.7 3357.2,1855.7 3357.2,1857.3 3361.4,1857.3 3361.4,1857.4 3365.6,1857.4 3365.6,1854.9 3369.8,1854.9 3369.8,1857.1 3374,1857.1 3374,1857.5 3378.2,1857.5 3378.2,1856.6 3382.4,1856.6 3382.4,1857.6 3386.6,1857.6 3386.6,1857.7 3390.8,1857.7 3390.8,1857.7 3395,1857.7 3395,1857.3 3399.2,1857.3 3399.2,1857.8 3403.4,1857.8 3403.4,1857.9 3407.6,1857.9 3407.6,1857.9 3411.8,1857.9 3411.8,1858 3412,1858 3412,1867 3411.8,1867 3411.8,1867.7 3407.6,1867.7 3407.6,1868.1 3403.4,1868.1 3403.4,1867.2 3399.2,1867.2 3399.2,1869.3 3395,1869.3 3395,1867.3 3390.8,1867.3 3390.8,1869.5 3386.6,1869.5 3386.6,1868.6 3382.4,1868.6 3382.4,1867.4 3378.2,1867.4 3378.2,1867.5 3374,1867.5 3374,1867.5 3369.8,1867.5 3369.8,1868.1 3365.6,1868.1 3365.6,1868.4 3361.4,1868.4 3361.4,1867.7 3357.2,1867.7 3357.2,1867.7 3353,1867.7 3353,1867.8 3348.8,1867.8 3348.8,1869.9 3344.6,1869.9 3344.6,1868.3 3340.4,1868.3 3340.4,1868.8 3336.2,1868.8 3336.2,1868 3332,1868 3332,1868 3327.8,1868 3327.8,1868.1 3323.6,1868.1 3323.6,1868.5 3319.4,1868.5 3319.4,1868.5 3315.2,1868.5 3315.2,1870.9 3311,1870.9 3311,1868.3 3306.8,1868.3 3306.8,1868.3 3302.6,1868.3 3302.6,1868.4 3298.4,1868.4 3298.4,1868.4 3294.2,1868.4 3294.2,1868.9 3290,1868.9"/>
<polygon fill="#000" points="3490,1855 3494.2,1855 3494.2,1856.5 3498.4,1856.5 3498.4,1856.4 3502.6,1856.4 3502.6,1856.4 3506.8,1856.4 3506.8,1856 3511,1856 3511,1856.3 3515.2,1856.3 3515.2,1854.3 3519.4,1854.3 3519.4,1856.2 3523.6,1856.2 3523.6,1853.9 3527.8,1853.9 3527.8,1856.2 3532,1856.2 3532,1856.1 3536.2,1856.1 3536.2,1856.1 3540.4,1856.1 3540.4,1856 3544.6,1856 3544.6,1856 3548.8,1856 3548.8,1856 3553,1856 3553,1855.9 3557.2,1855.9 3557.2,1855.9 3561.4,1855.9 3561.4,1855.9 3565.6,1855.9 3565.6,1855.8 3569.8,1855.8 3569.8,1855.8 3574,1855.8 3574,1855.7 3578.2,1855.7 3578.2,1854.6 3582.4,1854.6 3582.4,1855.7 3586.6,1855.7 3586.6,1855.6 3590.8,1855.6 3590.8,1855.6 3595,1855.6 3595,1855.5 3599.2,1855.5 3599.2,1855.5 3600,1855.5 3600,1865.5 3599.2,1865.5 3599.2,1866.7 3595,1866.7 3595,1865.7 3590.8,1865.7 3590.8,1866.1 3586.6,1866.1 3586.6,1865.3 3582.4,1865.3 3582.4,1865.8 3578.2,1865.8 3578.2,1865.3 3574,1865.3 3574,1865.2 3569.8,1865.2 3569.8,1867.6 3565.6,1867.6 3565.6,1865.1 3561.4,1865.1 3561.4,1865.1 3557.2,1865.1 3557.2,1865.6 3553,1865.6 3553,1866.4 3548.8,1866.4 3548.8,1865 3544.6,1865 3544.6,1865 3540.4,1865 3540.4,1864.9 3536.2,1864.9 3536.2,1865.2 3532,1865.2 3532,1864.8 3527.8,1864.8 3527.8,1865.5 3523.6,1865.5 3523.6,1867 3519.4,1867 3519.4,1864.7 3515.2,1864.7 3515.2,1864.7 3511,1864.7 3511,1864.7 3506.8,1864.7 3506.8,1867 3502.6,1867 3502.6,1864.6 3498.4,1864.6 3498.4,1866.8 3494.2,1866.8 3494.2,1864.8 3490,1864.8"/>
<polygon fill="#000" points="2585.6,1517 2665.6,1517 2665.6,1569.3 2673.8,1569.3 2673.8,1795.2 2682.4,1795.2 2682.4,1840 2700,1840 2700,1849 2707.7,1849 2707.7,1876 2704,1876 2704,1890 2696,1890 2696,1898.7 2678.7,1898.7 2678.7,1977.6 2673.8,1977.6 2673.8,2087.4 2670,2087.4 2670,2206.2 2589.3,2206.2 2589.3,2171.2 2581,2171.2 2581,2041 2577,2041 2577,1949.7 2572.6,1949.7 2572.6,1898.7 2564,1898.7 2564,1873.4 2559.6,1873.4 2555.8,1866 2555.8,1849 2559.6,1849 2559.6,1832.4 2568,1832.4 2568,1795.2 2576.3,1795.2 2576.3,1616.6 2585.6,1616.6"/>
<polygon fill="#000" points="2840,1856 2853,1845.4 2863,1837.9 2880.5,1827.8 2900.6,1817.8 2905.6,1807.8 2913,1795.3 2920.6,1792.7 2923,1777.7 2930.7,1760.2 2940.7,1750 2945.7,1735 2953.2,1731.6 2960.7,1732.6 2970.8,1742.6 2980.8,1757.7 2985.8,1775.2 2990.8,1795.3 2998.3,1800.3 3005.9,1820.3 3013.4,1832.9 3023.4,1845.4 3031,1850.4 3045,1856 3045,1867 3031,1873 3021,1880.5 3013.4,1890.5 3005.9,1905.5 2995.8,1918 2993.3,1933 2985.8,1945.7 2980.8,1955.7 2978.3,1973 2970.8,1980.7 2965.8,1990.8 2953.2,1990.8 2948.2,1980.7 2940.7,1973 2935.7,1965.7 2930.7,1953 2925.7,1938 2910.6,1928 2903,1908 2890.6,1903 2873,1895.5 2863,1885.5 2853,1875.5 2840,1867"/>
<polygon fill="#000" points="3100,1857 3111,1853 3121,1849.4 3163.8,1847.9 3173.8,1842.9 3181.3,1835.4 3191.4,1827.8 3201.4,1821.8 3211.4,1820.3 3229,1820.3 3239,1825.3 3246.5,1832.9 3254,1842.9 3264,1847.9 3279,1850.4 3291.6,1855.4 3300,1857 3300,1866 3294,1869.4 3279,1873 3269,1878 3261.5,1883 3251.5,1888 3244,1895.5 3236.5,1903 3201.4,1903 3188.9,1897 3181.3,1890.5 3173.8,1883 3161.3,1875.5 3123.7,1873 3111,1869.4 3100,1866"/>
<path d="M2092 1517V2206.2H3602.2" fill="none" stroke="#000" stroke-width="4.2" stroke-linecap="square"/>
<line x1="2092" y1="2206.2" x2="2092" y2="2191.2" stroke="#000" stroke-width="4.2"/>
<line x1="2471.3" y1="2206.2" x2="2471.3" y2="2191.2" stroke="#000" stroke-width="4.2"/>
<line x1="2846.8" y1="2206.2" x2="2846.8" y2="2191.2" stroke="#000" stroke-width="4.2"/>
<line x1="3221.7" y1="2206.2" x2="3221.7" y2="2191.2" stroke="#000" stroke-width="4.2"/>
<line x1="3602.2" y1="2206.2" x2="3602.2" y2="2191.2" stroke="#000" stroke-width="4.2"/>
<line x1="2092" y1="1517" x2="2107" y2="1517" stroke="#000" stroke-width="4.2"/>
<line x1="2092" y1="1861.6" x2="2107" y2="1861.6" stroke="#000" stroke-width="4.2"/>
<line x1="2092" y1="2206.2" x2="2107" y2="2206.2" stroke="#000" stroke-width="4.2"/>
<line x1="2875.5" y1="1723.4" x2="2875.5" y2="2204.5" stroke="#ff0000" stroke-width="5" stroke-dasharray="29.4 20.9" stroke-linecap="round"/>
<text x="2089" y="2279.5" font-size="67" text-anchor="middle">0</text>
<text x="2468.3" y="2279.5" font-size="67" text-anchor="middle">1</text>
<text x="2843.8" y="2279.5" font-size="67" text-anchor="middle">2</text>
<text x="3218.7" y="2279.5" font-size="67" text-anchor="middle">3</text>
<text x="3599.2" y="2279.5" font-size="67" text-anchor="middle">4</text>
<text x="2075.6" y="1535.5" font-size="68.5" text-anchor="end" letter-spacing="2.6">1.5</text>
<text x="2075.6" y="1880.1" font-size="68.5" text-anchor="end" letter-spacing="2.6">0</text>
<text x="2075.6" y="2224.7" font-size="68.5" text-anchor="end" letter-spacing="2.6">-1.5</text>
<text x="2089.8" y="1488" font-size="67" textLength="183" lengthAdjust="spacing">x 10<tspan font-size="48.2" dy="-36.2">-4</tspan></text>
<text x="3416.8" y="2393.2" font-size="67" textLength="178.2" lengthAdjust="spacing">x 10<tspan font-size="48.2" dy="-36.2">-3</tspan></text>
<text x="2780.4" y="2363.8" font-size="67" textLength="122" lengthAdjust="spacing">t (s)</text>
<text x="0" y="0" font-size="72" text-anchor="middle" textLength="509.7" lengthAdjust="spacing" transform="translate(1902.7 1865.7) scale(1 1) rotate(-90)">Amplitude (mm)</text>
<text x="2888" y="2288.3" font-size="74" textLength="139" lengthAdjust="spacing" class="sf k sn">2.08</text>
<rect x="2624.3" y="1375" width="1012.4" height="112.7" fill="#fff" stroke="#000" stroke-width="3.5"/>
<line x1="2656" y1="1431" x2="2809.8" y2="1431" stroke="#000" stroke-width="8"/>
<text x="2822.3" y="1453.7" font-size="66" textLength="780.3" lengthAdjust="spacing" class="lo">Symmetrically damaged</text>
<text x="2827.7" y="1453.7" font-size="66" textLength="780.3" lengthAdjust="spacing" class="lb">Symmetrically damaged</text>
<text x="2825" y="1453.7" font-size="66" textLength="780.3" lengthAdjust="spacing" class="lg">Symmetrically damaged</text>
<ellipse cx="2441" cy="1494.3" rx="39.5" ry="38.5" fill="none" stroke="#000" stroke-width="2.4"/>
<text x="0" y="0" font-size="71" text-anchor="middle" class="sf k" transform="translate(2441 1519.1) scale(1.12 1.0)">1</text>
<line x1="2473.9" y1="1532.3" x2="2540.4" y2="1596.2" stroke="#000" stroke-width="5.2"/>
<polygon fill="#000" points="2563.5,1618.4 2524,1606.1 2540.4,1596.2 2549.6,1579.4"/>
<ellipse cx="2961.8" cy="1572.8" rx="39" ry="38" fill="none" stroke="#000" stroke-width="2.4"/>
<text x="0" y="0" font-size="71" text-anchor="middle" class="sf k" transform="translate(2961.8 1597.6) scale(1.12 1.0)">2</text>
<line x1="2957.7" y1="1621" x2="2957.7" y2="1675" stroke="#000" stroke-width="5.2"/>
<polygon fill="#000" points="2957.7,1707 2939.2,1670 2957.7,1675 2976.2,1670"/>
<ellipse cx="3225.3" cy="1664" rx="39" ry="38" fill="none" stroke="#000" stroke-width="2.4"/>
<text x="0" y="0" font-size="71" text-anchor="middle" class="sf k" transform="translate(3225.3 1688.8) scale(1.12 1.0)">3</text>
<line x1="3221.7" y1="1718.7" x2="3221.7" y2="1772.9" stroke="#000" stroke-width="5.2"/>
<polygon fill="#000" points="3221.7,1804.9 3203.2,1767.9 3221.7,1772.9 3240.2,1767.9"/>
<text x="2914.2" y="2517.3" font-size="88" class="sf k" textLength="107" lengthAdjust="spacing"><tspan class="pr">(</tspan><tspan font-weight="bold">d</tspan><tspan class="pr">)</tspan></text>
</g>
<g id="pe">
<rect x="390" y="3150.3" width="1355" height="8" fill="#000"/>
<polygon fill="#000" points="294.4,2717 373.6,2717 373.6,2764.6 381.8,2764.6 381.8,2970 386,2970 386,3016.4 390.5,3016.4 390.5,3104.3 395,3104.3 395,3147 399,3150 399,3158 395,3161 395,3186.7 390.5,3186.7 390.5,3254 386,3254 386,3421.5 377.3,3421.5 377.3,3591.3 290.3,3591.3 290.3,3409.6 285.7,3409.6 285.7,3390.4 281,3390.4 281,3241.6 275.3,3241.6 275.3,3041.5 281,3041.5 281,2983 285.7,2983 285.7,2786 294.4,2786"/>
<polygon fill="#000" points="650,3150 652.5,3150 652.5,3143.2 656.3,3143.2 656.3,3133.6 664,3133.6 664,3127.9 664,3108.8 668.6,3108.8 668.6,3071.3 677.3,3071.3 677.3,3017 685.8,3017 685.8,2957.8 689.6,2957.8 689.6,2908 698.4,2908 698.4,2831.6 702.2,2831.6 702.2,2827.8 707.2,2827.8 707.2,2818.2 707.2,2806.8 711.7,2806.8 711.7,2803 722.5,2803 723.2,2803 723.2,2818.2 727,2818.2 727,2820 727,2856.5 735.5,2856.5 735.5,2858.4 735.5,2911.9 744.2,2911.9 744.2,2975 748,2975 748,3038 752.7,3038 752.7,3099.2 756.9,3099.2 756.9,3096.5 765.3,3096.5 765.3,3095.4 765.3,3059 773.7,3059 773.7,3038 777.9,3038 777.9,3017 782.5,3017 782.5,3003.6 786.3,3003.6 786.3,2994.8 795,2994.8 795,2986.4 795,2978 803.5,2978 803.5,2965.4 811,2965.4 811,2961.6 818.8,2961.6 818.8,2967.3 828.3,2967.3 828.3,2978.8 828.3,2990.3 836.8,2990.3 836.8,2996 841,2996 841,3003.6 841,3020.8 845.6,3020.8 845.6,3038 853.2,3038 857.8,3038 857.8,3058.3 866.6,3058.3 866.6,3059 866.6,3071.3 874.2,3071.3 874.2,3072.5 883.8,3072.5 883.8,3083.9 883.8,3091.6 891.4,3091.6 891.4,3092.3 892.2,3092.3 892.2,3099.2 912.5,3099.2 913.6,3099.2 913.6,3092.3 918.2,3092.3 918.2,3087.7 922,3087.7 922,3080 927.7,3080 927.7,3074.4 929.7,3074.4 929.7,3059 938,3059 938,3058.3 938,3041.9 943,3041.9 943,3028.5 950.7,3028.5 950.7,3008.2 959,3008.2 959,3009.4 959,2996 964,2996 964,2991.4 977.4,2991.4 981.3,2991.4 981.3,2996 987.8,2996 987.8,2999.8 989,2999.8 989,3013.2 996.6,3013.2 996.6,3017 997.3,3017 997.3,3034.2 1002.3,3034.2 1002.3,3041.9 1006,3041.9 1006,3053.3 1010,3053.3 1010,3078.2 1013.8,3078.2 1013.8,3097.3 1018.4,3097.3 1018.4,3112.6 1025.2,3112.6 1025.2,3118.3 1026,3118.3 1026,3143.2 1031,3143.2 1031,3147 1034.8,3147 1034.8,3141.3 1042.7,3141.3 1042.7,3129.3 1046.7,3129.3 1046.7,3125.3 1056,3125.3 1056,3121.3 1072,3121.3 1076,3121.3 1076,3125.3 1080,3125.3 1080,3129.3 1089.3,3129.3 1089.3,3133.3 1097.3,3133.3 1097.3,3133.9 1098.7,3133.9 1098.7,3138 1105.9,3138 1105.9,3146 1126.7,3146 1127.5,3146 1127.5,3141.9 1134.7,3141.9 1136,3141.9 1136,3145.3 1140,3145.3 1140,3141.9 1152,3141.9 1152.5,3141.9 1152.5,3146 1169.3,3146 1169.9,3146 1169.9,3141.9 1198.7,3141.9 1198.7,3138 1202.7,3138 1202.7,3133.3 1206.7,3133.3 1206.7,3129.9 1214.7,3129.9 1214.7,3129.3 1215.5,3129.3 1215.5,3117.3 1222.7,3117.3 1222.7,3116.8 1228,3116.8 1228,3108.8 1232,3108.8 1232,3104.5 1248,3104.5 1252,3104.5 1252,3108.8 1260,3108.8 1260,3113.3 1262.7,3113.3 1262.7,3120 1266.7,3120 1266.7,3116.8 1270.7,3116.8 1270.7,3125.3 1277.3,3125.3 1277.3,3121.3 1282.7,3121.3 1282.7,3125.9 1286.7,3125.9 1286.7,3129.3 1294.7,3129.3 1294.7,3133.3 1300,3133.3 1300,3141.9 1308,3141.9 1308,3142.7 1312,3142.7 1312,3149.3 1329.3,3149.3 1329.3,3149.9 1329.9,3149.9 1329.9,3146 1349.3,3146 1350.7,3146 1350.7,3149.9 1358.7,3149.9 1358.7,3146 1374.7,3146 1376,3146 1376,3150 1379.2,3150 1379.2,3152 1379.2,3158 1379.2,3166.7 1378.7,3166.7 1366.7,3166.7 1366.7,3162.7 1364,3162.7 1364,3166.7 1362.7,3166.7 1354.7,3166.7 1354.7,3162.7 1349.3,3162.7 1349.3,3166.7 1345.3,3166.7 1345.3,3162.7 1341.9,3162.7 1341.9,3166.7 1341.3,3166.7 1325.3,3166.7 1325.3,3162.7 1312,3162.7 1312,3170.7 1308,3170.7 1308,3174.7 1300,3174.7 1300,3176 1296,3176 1296,3183.5 1294.7,3183.5 1294.7,3184 1278.7,3184 1278.7,3191.5 1274.7,3191.5 1274.7,3192 1266.7,3192 1266.7,3200 1265.3,3200 1265.3,3204 1261.3,3204 1249.3,3204 1249.3,3208.5 1248,3208.5 1237.3,3208.5 1237.3,3204.8 1236,3204.8 1236,3204 1224,3204 1224,3200 1220,3200 1220,3192 1216,3192 1216,3188 1212,3188 1212,3180 1210.7,3180 1210.7,3175.5 1206.7,3175.5 1206.7,3174.7 1200,3174.7 1200,3171.2 1198.7,3171.2 1198.7,3170.7 1173.3,3170.7 1173.3,3166.7 1140,3166.7 1140,3170.7 1138.7,3170.7 1127.5,3170.7 1127.5,3166.7 1126.7,3166.7 1110.7,3166.7 1110.7,3170.7 1109.9,3170.7 1102.7,3170.7 1102.7,3174.7 1101.3,3174.7 1101.3,3178.7 1092,3178.7 1092,3183.2 1088,3183.2 1088,3184 1080,3184 1080,3187.5 1076,3187.5 1076,3191.5 1072,3191.5 1060,3191.5 1060,3188 1054.7,3188 1054.7,3184 1052,3184 1052,3183.5 1042.7,3183.5 1042.7,3175.5 1042.7,3174.7 1038.7,3174.7 1038.7,3162.3 1036.7,3162.3 1036.7,3164.2 1031,3164.2 1031,3177.6 1029.8,3177.6 1021.4,3177.6 1021.4,3204.4 1018.7,3204.4 1018.7,3221.5 1017.6,3221.5 1017.6,3225.4 1010.7,3225.4 1010.7,3244.5 1010,3244.5 1010,3246.4 1006,3246.4 1006,3267.4 1002.3,3267.4 1002.3,3286.5 1000.4,3286.5 1000.4,3288.4 992.7,3288.4 992.7,3303.7 990.8,3303.7 990.8,3305.7 981.3,3305.7 981.3,3321 979.4,3321 979.4,3324.8 967.9,3324.8 967.9,3317 960.2,3317 960.2,3305.7 955.3,3305.7 955.3,3292.3 946.9,3292.3 946.9,3278.9 943,3278.9 943,3259.8 942.3,3259.8 942.3,3257.9 934.2,3257.9 934.2,3246.4 933.5,3246.4 933.5,3242.6 925.8,3242.6 925.8,3225.4 923.9,3225.4 923.9,3221.5 918.2,3221.5 918.2,3215.8 913.6,3215.8 913.6,3208.2 904.8,3208.2 904.8,3210 892.2,3210 892.2,3219.6 887.6,3219.6 887.6,3221.5 880,3221.5 880,3233 875.4,3233 875.4,3236.8 872.3,3236.8 872.3,3246.4 870.4,3246.4 862,3246.4 862,3257.9 860.8,3257.9 860.8,3271.2 857.8,3271.2 849.4,3271.2 849.4,3280.8 849.4,3282.7 841.7,3282.7 841.7,3296 840.6,3296 840.6,3311.4 836.8,3311.4 836.8,3313.3 832.2,3313.3 832.2,3332.4 828.3,3332.4 828.3,3333.6 819.6,3333.6 819.6,3342 803.5,3342 803.5,3334.3 799.7,3334.3 799.7,3322.9 790.9,3322.9 790.9,3305.7 786.3,3305.7 786.3,3284.6 778.7,3284.6 778.7,3279 774,3279 774,3263.6 773.7,3263.6 773.7,3262.5 769,3262.5 769,3229 757.5,3229 757.5,3236.8 756.9,3236.8 756.9,3235 748.8,3235 748.8,3300 748,3300 744.2,3300 744.2,3366.8 743.5,3366.8 743.5,3407 739.7,3407 739.7,3426 739.7,3430 731.6,3430 731.6,3468 731,3468 727,3468 727,3494.9 719.4,3494.9 719.4,3504.4 718.6,3504.4 710.6,3504.4 710.6,3485.3 710.6,3483.4 702.2,3483.4 702.2,3454.7 698.4,3454.7 698.4,3422.3 693.8,3422.3 693.8,3366.8 685.8,3366.8 685.8,3317 681.2,3317 681.2,3262.5 673.5,3262.5 673.5,3215.8 668.6,3215.8 668.6,3196.7 664.7,3196.7 664.7,3182.2 664.7,3181.4 660,3181.4 660,3166 660,3162.3 652.5,3162.3 652.5,3158 650,3158"/>
<path d="M275.3 2717V3591.3H1747.6" fill="none" stroke="#000" stroke-width="4.2" stroke-linecap="square"/>
<line x1="275.3" y1="3591.3" x2="275.3" y2="3576.3" stroke="#000" stroke-width="4.2"/>
<line x1="640.9" y1="3591.3" x2="640.9" y2="3576.3" stroke="#000" stroke-width="4.2"/>
<line x1="1011.5" y1="3591.3" x2="1011.5" y2="3576.3" stroke="#000" stroke-width="4.2"/>
<line x1="1377.3" y1="3591.3" x2="1377.3" y2="3576.3" stroke="#000" stroke-width="4.2"/>
<line x1="1747.6" y1="3591.3" x2="1747.6" y2="3576.3" stroke="#000" stroke-width="4.2"/>
<line x1="275.3" y1="2717" x2="290.3" y2="2717" stroke="#000" stroke-width="4.2"/>
<line x1="275.3" y1="3154" x2="290.3" y2="3154" stroke="#000" stroke-width="4.2"/>
<line x1="275.3" y1="3591.3" x2="290.3" y2="3591.3" stroke="#000" stroke-width="4.2"/>
<line x1="275.3" y1="2717" x2="295.3" y2="2717" stroke="#000" stroke-width="3.5"/>
<text x="272.3" y="3663.6" font-size="67" text-anchor="middle">0</text>
<text x="637.9" y="3663.6" font-size="67" text-anchor="middle">1</text>
<text x="1008.5" y="3663.6" font-size="67" text-anchor="middle">2</text>
<text x="1374.3" y="3663.6" font-size="67" text-anchor="middle">3</text>
<text x="1744.6" y="3663.6" font-size="67" text-anchor="middle">4</text>
<text x="255.6" y="2735" font-size="67.5" text-anchor="end" letter-spacing="2.6">2.5</text>
<text x="255.6" y="3172" font-size="67.5" text-anchor="end" letter-spacing="2.6">0</text>
<text x="255.6" y="3609.3" font-size="67.5" text-anchor="end" letter-spacing="2.6">-2.5</text>
<text x="273.6" y="2683.9" font-size="67" textLength="174.8" lengthAdjust="spacing">x 10<tspan font-size="48.2" dy="-36.2">-4</tspan></text>
<text x="1564.7" y="3776.6" font-size="67" textLength="180.3" lengthAdjust="spacing">x 10<tspan font-size="48.2" dy="-36.2">-3</tspan></text>
<text x="940.5" y="3747.2" font-size="67" textLength="126.7" lengthAdjust="spacing">t (s)</text>
<text x="0" y="0" font-size="71" text-anchor="middle" textLength="515" lengthAdjust="spacing" transform="translate(88 3156) scale(1 1) rotate(-90)">Amplitude (mm)</text>
<rect x="719.5" y="2658.5" width="1037.8" height="113" fill="#fff" stroke="#000" stroke-width="3.5"/>
<line x1="748.3" y1="2714.3" x2="903.4" y2="2714.3" stroke="#000" stroke-width="8"/>
<text x="915" y="2733.5" font-size="67" textLength="804" lengthAdjust="spacing" class="lo">Asymmetrically damaged</text>
<text x="920.4" y="2733.5" font-size="67" textLength="804" lengthAdjust="spacing" class="lb">Asymmetrically damaged</text>
<text x="917.7" y="2733.5" font-size="67" textLength="804" lengthAdjust="spacing" class="lg">Asymmetrically damaged</text>
<ellipse cx="550.7" cy="2780" rx="38.8" ry="38" fill="none" stroke="#000" stroke-width="2.4"/>
<text x="0" y="0" font-size="71" text-anchor="middle" class="sf k" transform="translate(550.7 2804.8) scale(1.12 1.0)">1</text>
<line x1="582.7" y1="2816.6" x2="648.6" y2="2881.8" stroke="#000" stroke-width="5.2"/>
<polygon fill="#000" points="671.3,2904.3 632,2891.4 648.6,2881.8 658,2865.1"/>
<ellipse cx="814.2" cy="2825.7" rx="38.8" ry="38" fill="none" stroke="#000" stroke-width="2.4"/>
<text x="0" y="0" font-size="71" text-anchor="middle" class="sf k" transform="translate(814.2 2850.5) scale(1.12 1.0)">4</text>
<line x1="810.7" y1="2873.9" x2="810.7" y2="2929" stroke="#000" stroke-width="5.2"/>
<polygon fill="#000" points="810.7,2961 792.2,2924 810.7,2929 829.2,2924"/>
<ellipse cx="977" cy="2824.2" rx="38.8" ry="38" fill="none" stroke="#000" stroke-width="2.4"/>
<text x="0" y="0" font-size="71" text-anchor="middle" class="sf k" transform="translate(977 2849) scale(1.12 1.0)">2</text>
<line x1="973" y1="2872.3" x2="973" y2="2927" stroke="#000" stroke-width="5.2"/>
<polygon fill="#000" points="973,2959 954.5,2922 973,2927 991.5,2922"/>
<ellipse cx="1077.3" cy="2956.5" rx="38.8" ry="38" fill="none" stroke="#000" stroke-width="2.4"/>
<text x="0" y="0" font-size="71" text-anchor="middle" class="sf k" transform="translate(1077.3 2981.3) scale(1.12 1.0)">5</text>
<line x1="1075.3" y1="3009.6" x2="1075.3" y2="3064.8" stroke="#000" stroke-width="5.2"/>
<polygon fill="#000" points="1075.3,3096.8 1056.8,3059.8 1075.3,3064.8 1093.8,3059.8"/>
<ellipse cx="1240.5" cy="2955" rx="38.8" ry="38" fill="none" stroke="#000" stroke-width="2.4"/>
<text x="0" y="0" font-size="71" text-anchor="middle" class="sf k" transform="translate(1240.5 2979.8) scale(1.12 1.0)">3</text>
<line x1="1238" y1="3008" x2="1238" y2="3063.3" stroke="#000" stroke-width="5.2"/>
<polygon fill="#000" points="1238,3095.3 1219.5,3058.3 1238,3063.3 1256.5,3058.3"/>
<text x="941.1" y="3884" font-size="88" class="sf k" textLength="99" lengthAdjust="spacing"><tspan class="pr">(</tspan><tspan font-weight="bold">e</tspan><tspan class="pr">)</tspan></text>
</g>
<g id="pf">
<rect x="2067" y="3126" width="1535" height="8" fill="#000"/>
<rect x="2984" y="3122.5" width="62" height="17" fill="#000"/>
<polygon fill="#000" points="2536.9,3126 2536.9,3113 2545,3113 2545,3090.3 2548.7,3090.3 2548.7,3069 2553,3069 2553,2950.8 2561.5,2950.8 2561.5,2808 2566.2,2808 2566.2,2690 2649,2690 2649,2765 2652.7,2765 2652.7,2933.3 2657,2933.3 2657,2964 2662.2,2964 2662.2,3069 2665.5,3069 2665.5,3073.7 2676,3073.7 2676,3051.5 2691.5,3051.5 2691.5,3050 2696.2,3050 2696.2,3026.4 2705.7,3026.4 2705.7,3019.4 2710.4,3019.4 2710.4,2991 2719.9,2991 2719.9,2988.6 2724.6,2988.6 2724.6,2965 2734,2965 2734,2955.5 2743.5,2955.5 2743.5,2950.8 2757.7,2950.8 2757.7,2955.5 2762.4,2955.5 2762.4,2972 2774.2,2972 2774.2,2983.9 2783.7,2983.9 2783.7,2998 2790.8,2998 2790.8,3019.4 2802.6,3019.4 2802.6,3031.2 2812,3031.2 2812,3040.6 2814.4,3040.6 2814.4,3054.8 2826.2,3054.8 2826.2,3064.3 2835.7,3064.3 2835.7,3076 2847.5,3076 2847.5,3062 2857,3062 2857,3051.5 2864,3051.5 2864,3052.5 2866.4,3052.5 2866.4,3035.9 2871.2,3035.9 2871.2,3007.5 2875.9,3007.5 2875.9,2969.7 2883,2969.7 2883,2967.3 2883,2934.2 2887.7,2934.2 2887.7,2933.3 2887.7,2894 2896.2,2894 2896.2,2863.3 2904.3,2863.3 2904.3,2858.6 2905.2,2858.6 2905.2,2842 2909,2842 2909,2830.2 2923.2,2830.2 2923.2,2837.3 2925.5,2837.3 2925.5,2858.6 2934,2858.6 2934,2863.3 2935,2863.3 2935,2903.5 2942,2903.5 2944.5,2903.5 2944.5,2942.8 2947.8,2942.8 2947.8,2943.7 2949.2,2943.7 2949.2,2985.3 2955.3,2985.3 2955.3,2986.3 2956.3,2986.3 2956.3,3028.8 2961,3028.8 2961,3031.2 2965.7,3031.2 2965.7,3064.3 2970.5,3064.3 2970.5,3090.3 2975.2,3090.3 2975.2,3116.3 2984.7,3116.3 2984.7,3125.7 2991.7,3125.7 2991.7,3126 3009.3,3126 3009.3,3121.4 3044.5,3121.4 3046.2,3121.4 3046.2,3116.2 3049.8,3116.2 3049.8,3107.4 3055,3107.4 3055,3103 3062,3103 3062,3095 3065.6,3095 3065.6,3090.8 3066.7,3090.8 3066.7,3069.3 3074.4,3069.3 3074.4,3068.6 3075.5,3068.6 3075.5,3056.3 3079.7,3056.3 3079.7,3052 3088.5,3052 3088.5,3051 3090.2,3051 3090.2,3039.4 3106,3039.4 3107.8,3039.4 3107.8,3047.5 3118.4,3047.5 3118.4,3052 3120.2,3052 3120.2,3068.6 3127.2,3068.6 3127.2,3070.4 3129,3070.4 3129,3086.2 3136,3086.2 3136,3090.8 3137.8,3090.8 3137.8,3103.8 3141.3,3103.8 3141.3,3105.6 3142.3,3105.6 3142.3,3121.4 3150,3121.4 3151,3121.4 3151,3112 3158.9,3112 3158.9,3104.5 3174.7,3104.5 3174.7,3103.8 3181.8,3103.8 3181.8,3109 3185.3,3109 3185.3,3112.6 3194,3112.6 3194,3117.2 3199.4,3117.2 3199.4,3125 3215.2,3125 3217,3125 3217,3121.4 3229.3,3121.4 3229.3,3120.7 3231,3120.7 3231,3117.2 3241.6,3117.2 3243.4,3117.2 3243.4,3121.4 3250.4,3121.4 3252.2,3121.4 3252.2,3126 3262.7,3126 3264.5,3126 3264.5,3121.4 3294.4,3121.4 3296.2,3121.4 3296.2,3117.2 3320.8,3117.2 3322.6,3117.2 3322.6,3112.6 3333,3112.6 3333,3112 3336.6,3112 3336.6,3108.4 3359.5,3108.4 3364.8,3108.4 3364.8,3112.6 3370,3112.6 3370,3117.2 3377,3117.2 3377,3121.4 3379,3121.4 3379,3125 3413,3125 3413,3126 3413,3133.8 3413,3142.6 3412.3,3142.6 3373.6,3142.6 3373.6,3149.6 3370,3149.6 3370,3154.9 3364.8,3154.9 3352.5,3154.9 3352.5,3159 3351.4,3159 3343.7,3159 3343.7,3155.6 3343,3155.6 3343,3154.9 3331.4,3154.9 3331.4,3151.4 3329.6,3151.4 3329.6,3150.7 3313,3150.7 3313,3147 3312,3147 3312,3146 3273.3,3146 3273.3,3142.6 3259.2,3142.6 3259.2,3139 3252.2,3139 3252.2,3142.6 3238,3142.6 3238,3146 3234.6,3146 3234.6,3139 3232.8,3139 3195,3139 3195,3144.3 3194,3144.3 3194,3147.8 3185.3,3147.8 3185.3,3154.9 3180,3154.9 3180,3159 3174.7,3159 3155.4,3159 3155.4,3151.4 3155.4,3149.6 3151,3149.6 3151,3142.6 3150,3142.6 3145.9,3142.6 3145.9,3150.7 3144.8,3150.7 3144.8,3151.4 3137.8,3151.4 3137.8,3167.2 3136,3167.2 3136,3169 3132.5,3169 3132.5,3183 3131.8,3183 3131.8,3184.8 3123.7,3184.8 3123.7,3202.4 3122,3202.4 3122,3211.2 3116.6,3211.2 3116.6,3214.7 3111.4,3214.7 3111.4,3224.6 3109.6,3224.6 3093,3224.6 3093,3214.7 3092,3214.7 3092,3211.2 3081.4,3211.2 3081.4,3200.6 3079.7,3200.6 3079.7,3198.9 3072,3198.9 3072,3183 3070.9,3183 3070.9,3181.3 3063,3181.3 3063,3165.4 3062,3165.4 3062,3163.7 3058.6,3163.7 3058.6,3156.6 3058.6,3153 3053.3,3153 3053.3,3147.8 3049.8,3147.8 3049.8,3142.6 3044.5,3142.6 3000.5,3142.6 3000.5,3139 2991.7,3139 2991.7,3142.3 2980,3142.3 2980,3151.7 2970.5,3151.7 2970.5,3180 2965.7,3180 2965.7,3213.2 2964.8,3213.2 2964.8,3215.6 2961,3215.6 2961,3255.8 2959.6,3255.8 2959.6,3258 2954,3258 2954,3296 2951.6,3296 2951.6,3298.3 2945.9,3298.3 2945.9,3343.3 2942,3343.3 2942,3378.7 2937.4,3378.7 2930.3,3378.7 2930.3,3406 2929.3,3406 2929.3,3407 2925.5,3407 2925.5,3428.4 2924.6,3428.4 2924.6,3433 2914.7,3433 2914.7,3428.4 2905.2,3428.4 2905.2,3411.8 2901,3411.8 2901,3385.8 2899.5,3385.8 2899.5,3383.4 2892.4,3383.4 2892.4,3345.6 2887.7,3345.6 2887.7,3310 2883,3310 2883,3305.4 2878.3,3305.4 2878.3,3272.3 2877.3,3272.3 2877.3,3267.6 2871.2,3267.6 2871.2,3225 2866.4,3225 2866.4,3210.9 2861.7,3210.9 2861.7,3201.4 2854.6,3201.4 2854.6,3189.6 2847.5,3189.6 2835.7,3189.6 2835.7,3194.3 2831,3194.3 2831,3203.8 2819.2,3203.8 2819.2,3220.3 2809.7,3220.3 2809.7,3229.8 2797.9,3229.8 2797.9,3246.3 2792.2,3246.3 2792.2,3262.9 2788.4,3262.9 2788.4,3272.3 2779,3272.3 2779,3284 2768,3284 2768,3300.7 2764.8,3300.7 2764.8,3311.6 2753,3311.6 2753,3317.2 2743.5,3317.2 2743.5,3311.6 2738.8,3311.6 2738.8,3305.4 2727,3305.4 2727,3288.9 2726,3288.9 2726,3284 2719.9,3284 2719.9,3270 2715,3270 2715,3267.6 2705.7,3267.6 2705.7,3236.9 2701,3236.9 2701,3234.5 2693.9,3234.5 2693.9,3218 2689,3218 2689,3225 2682,3225 2682,3218 2679.7,3218 2679.7,3215.6 2671.2,3215.6 2671.2,3166 2662.2,3166 2662.2,3259.5 2657.5,3259.5 2657.5,3407 2652.7,3407 2652.7,3583.5 2571,3583.5 2571,3532.4 2566.2,3532.4 2566.2,3407 2561.5,3407 2561.5,3359.8 2557.7,3359.8 2557.7,3246.3 2553,3246.3 2553,3177.7 2548.7,3177.7 2548.7,3142.3 2536.9,3142.3 2536.9,3134"/>
<rect x="3475.7" y="3121.4" width="21" height="17" fill="#000"/>
<rect x="3528.5" y="3121.4" width="74" height="17" fill="#000"/>
<rect x="3565" y="3138" width="20" height="4" fill="#000"/>
<path d="M2067.5 2674.7V3583.5H3603.7" fill="none" stroke="#000" stroke-width="4.2" stroke-linecap="square"/>
<line x1="2067.5" y1="3583.5" x2="2067.5" y2="3568.5" stroke="#000" stroke-width="4.2"/>
<line x1="2450" y1="3583.5" x2="2450" y2="3568.5" stroke="#000" stroke-width="4.2"/>
<line x1="2836" y1="3583.5" x2="2836" y2="3568.5" stroke="#000" stroke-width="4.2"/>
<line x1="3218" y1="3583.5" x2="3218" y2="3568.5" stroke="#000" stroke-width="4.2"/>
<line x1="3603.7" y1="3583.5" x2="3603.7" y2="3568.5" stroke="#000" stroke-width="4.2"/>
<line x1="2067.5" y1="2674.7" x2="2082.5" y2="2674.7" stroke="#000" stroke-width="4.2"/>
<line x1="2067.5" y1="3129.7" x2="2082.5" y2="3129.7" stroke="#000" stroke-width="4.2"/>
<line x1="2067.5" y1="3583.5" x2="2082.5" y2="3583.5" stroke="#000" stroke-width="4.2"/>
<text x="2064.5" y="3658.5" font-size="68" text-anchor="middle">0</text>
<text x="2447" y="3658.5" font-size="68" text-anchor="middle">1</text>
<text x="2833" y="3658.5" font-size="68" text-anchor="middle">2</text>
<text x="3215" y="3658.5" font-size="68" text-anchor="middle">3</text>
<text x="3600.7" y="3658.5" font-size="68" text-anchor="middle">4</text>
<text x="2045.6" y="2693.7" font-size="70" text-anchor="end" letter-spacing="2.6">1.5</text>
<text x="2045.6" y="3148.7" font-size="70" text-anchor="end" letter-spacing="2.6">0</text>
<text x="2045.6" y="3602.5" font-size="70" text-anchor="end" letter-spacing="2.6">-1.5</text>
<text x="2066" y="2640.8" font-size="67" textLength="182.4" lengthAdjust="spacing">x 10<tspan font-size="48.2" dy="-36.2">-4</tspan></text>
<text x="3414" y="3775" font-size="67" textLength="187.7" lengthAdjust="spacing">x 10<tspan font-size="48.2" dy="-36.2">-3</tspan></text>
<text x="2763" y="3744.7" font-size="67" textLength="132" lengthAdjust="spacing">t (s)</text>
<text x="0" y="0" font-size="74.5" text-anchor="middle" textLength="540" lengthAdjust="spacing" transform="translate(1872.4 3131.7) scale(1 1) rotate(-90)">Amplitude (mm)</text>
<rect x="2568" y="2575.2" width="1081.5" height="117.3" fill="#fff" stroke="#000" stroke-width="3.5"/>
<line x1="2601.8" y1="2632.7" x2="2758.2" y2="2632.7" stroke="#000" stroke-width="8"/>
<text x="2769.1" y="2654.4" font-size="70" textLength="840" lengthAdjust="spacing" class="lo">Asymmetrically damaged</text>
<text x="2774.5" y="2654.4" font-size="70" textLength="840" lengthAdjust="spacing" class="lb">Asymmetrically damaged</text>
<text x="2771.8" y="2654.4" font-size="70" textLength="840" lengthAdjust="spacing" class="lg">Asymmetrically damaged</text>
<ellipse cx="2420.7" cy="2785.2" rx="40.5" ry="40.5" fill="none" stroke="#000" stroke-width="2.4"/>
<text x="0" y="0" font-size="71" text-anchor="middle" class="sf k" transform="translate(2420.7 2810) scale(1.12 1.0)">1</text>
<line x1="2454.6" y1="2824.2" x2="2524.4" y2="2892.1" stroke="#000" stroke-width="5.2"/>
<polygon fill="#000" points="2547.3,2914.4 2507.9,2901.9 2524.4,2892.1 2533.7,2875.3"/>
<ellipse cx="2748.2" cy="2785.3" rx="40.5" ry="40.5" fill="none" stroke="#000" stroke-width="2.4"/>
<text x="0" y="0" font-size="71" text-anchor="middle" class="sf k" transform="translate(2748.2 2810.2) scale(1.12 1.0)">4</text>
<line x1="2744.5" y1="2835" x2="2744.5" y2="2893.7" stroke="#000" stroke-width="5.2"/>
<polygon fill="#000" points="2744.5,2925.7 2726,2888.7 2744.5,2893.7 2763,2888.7"/>
<ellipse cx="2997.4" cy="2748.6" rx="40.5" ry="40.5" fill="none" stroke="#000" stroke-width="2.4"/>
<text x="0" y="0" font-size="71" text-anchor="middle" class="sf k" transform="translate(2997.4 2773.4) scale(1.12 1.0)">2</text>
<line x1="2996.5" y1="2795.7" x2="2972.9" y2="2834.6" stroke="#000" stroke-width="5.2"/>
<polygon fill="#000" points="2956.3,2862 2959.7,2820.8 2972.9,2834.6 2991.3,2840"/>
<ellipse cx="3108.7" cy="2873.9" rx="40.5" ry="40.5" fill="none" stroke="#000" stroke-width="2.4"/>
<text x="0" y="0" font-size="71" text-anchor="middle" class="sf k" transform="translate(3108.7 2898.8) scale(1.12 1.0)">5</text>
<line x1="3105.7" y1="2929.6" x2="3105.7" y2="2987.3" stroke="#000" stroke-width="5.2"/>
<polygon fill="#000" points="3105.7,3019.3 3087.2,2982.3 3105.7,2987.3 3124.2,2982.3"/>
<ellipse cx="3332.7" cy="2930.6" rx="40.5" ry="40.5" fill="none" stroke="#000" stroke-width="2.4"/>
<text x="0" y="0" font-size="71" text-anchor="middle" class="sf k" transform="translate(3332.7 2955.4) scale(1.12 1.0)">3</text>
<line x1="3329.6" y1="2985.3" x2="3329.6" y2="3043.7" stroke="#000" stroke-width="5.2"/>
<polygon fill="#000" points="3329.6,3075.7 3311.1,3038.7 3329.6,3043.7 3348.1,3038.7"/>
<text x="2635" y="3881.5" font-size="88" class="sf k" textLength="87" lengthAdjust="spacing"><tspan class="pr">(</tspan><tspan font-weight="bold">f</tspan><tspan class="pr">)</tspan></text>
</g>
</svg>
</body></html>
